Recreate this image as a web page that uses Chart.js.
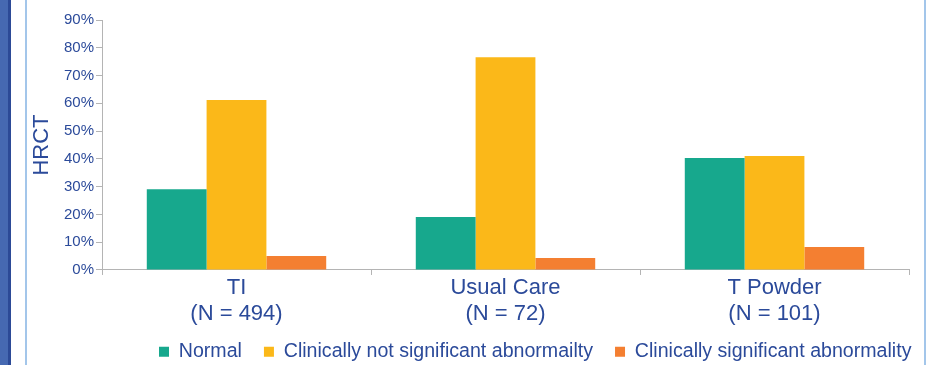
<!DOCTYPE html>
<html>
<head>
<meta charset="utf-8">
<script src="https://cdn.jsdelivr.net/npm/chart.js@4.4.1/dist/chart.umd.min.js"></script>
<style>
  html, body { margin: 0; padding: 0; background: #fff; }
  #wrap { position: relative; width: 935px; height: 365px; overflow: hidden; }
  #chart { position: absolute; left: 0; top: 0; }
  /* slide frame decoration */
  .band { position: absolute; top: 0; height: 365px; }
</style>
</head>
<body>
<div id="wrap">
  <div class="band" style="left:0;width:8px;background:#4669b2"></div>
  <div class="band" style="left:8px;width:3px;background:#2c4a97"></div>
  <div class="band" style="left:25px;width:2px;background:#a3c6ea"></div>
  <div class="band" style="left:924px;width:2px;background:#a3c6ea"></div>
  <canvas id="chart" width="935" height="365"></canvas>
</div>

<script>
  // categories and values (percent)
  const categories = [
    ["TI", "(N = 494)"],
    ["Usual Care", "(N = 72)"],
    ["T Powder", "(N = 101)"],
  ];
  const seriesNames = [
    "Normal",
    "Clinically not significant abnormailty",
    "Clinically significant abnormality",
  ];
  const normal = [29.1, 19.1, 40.3];
  const notSignificant = [61.2, 76.6, 41.0];
  const significant = [5.0, 4.3, 8.3];
  const yTicks = [0, 10, 20, 30, 40, 50, 60, 70, 80, 90];

  const textColor = "#2b4a9a";
  const axisColor = "#b4b4b4";

  Chart.defaults.font.family = "'Liberation Sans', Arial, sans-serif";
  Chart.defaults.color = textColor;

  // move the legend box a bit to sit like the original slide
  const legendNudge = {
    id: "legendNudge",
    afterLayout(chart) {
      const lg = chart.legend;
      lg.left += 109;
      lg.right += 109;
      lg.top -= 7;
      lg.bottom -= 7;
    },
  };

  const ctx = document.getElementById("chart").getContext("2d");
  new Chart(ctx, {
    type: "bar",
    data: {
      labels: categories,
      datasets: [
        { label: seriesNames[0], data: normal, backgroundColor: "#17a88d" },
        { label: seriesNames[1], data: notSignificant, backgroundColor: "#fbb819" },
        { label: seriesNames[2], data: significant, backgroundColor: "#f47f31" },
      ],
    },
    options: {
      responsive: false,
      animation: false,
      categoryPercentage: 0.667,
      barPercentage: 1.0,
      layout: { padding: { left: 28, right: 26, top: 20, bottom: -13.5 } },
      plugins: {
        tooltip: { enabled: false },
        legend: {
          position: "bottom",
          align: "start",
          labels: {
            boxWidth: 10,
            boxHeight: 10,
            padding: 22,
            color: textColor,
            font: { size: 19.6 },
          },
        },
      },
      scales: {
        x: {
          grid: {
            drawOnChartArea: false,
            tickLength: 5,
            color: axisColor,
            offset: true,
          },
          border: { color: axisColor, width: 1 },
          ticks: {
            padding: 0,
            color: textColor,
            font: { size: 22, lineHeight: 1.18 },
            maxRotation: 0,
          },
        },
        y: {
          min: 0,
          max: 90,
          afterFit: (scale) => { scale.width = 74; },
          afterBuildTicks: (scale) => {
            scale.ticks = yTicks.map((v) => ({ value: v }));
          },
          grid: {
            drawOnChartArea: false,
            tickLength: 6,
            color: axisColor,
          },
          border: { color: axisColor, width: 1 },
          ticks: {
            padding: 2,
            color: textColor,
            font: { size: 15 },
            callback: (v) => v + "%",
          },
          title: {
            display: true,
            text: "HRCT",
            color: textColor,
            font: { size: 22 },
            padding: { top: 1, bottom: 0 },
          },
        },
      },
    },
    plugins: [legendNudge],
  });
</script>
</body>
</html>
